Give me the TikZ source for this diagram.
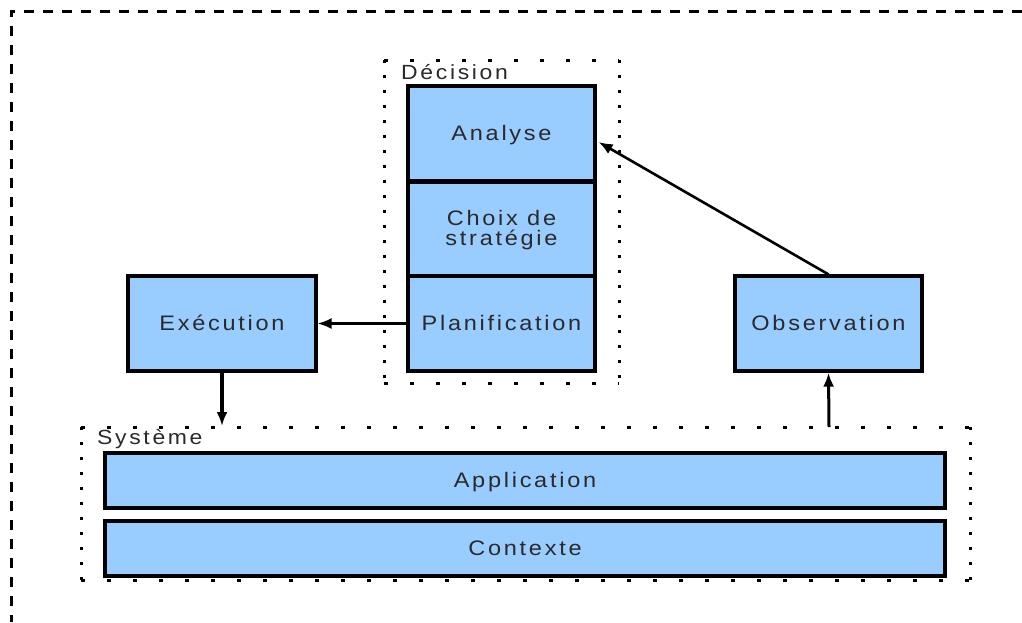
\documentclass[tikz,border=0pt]{standalone}
\usepackage{fontspec}
\setmainfont{Liberation Sans}[LetterSpace=13,FakeStretch=1.12]
\usetikzlibrary{arrows.meta}
\definecolor{boxblue}{HTML}{99CCFF}
\definecolor{txt}{HTML}{2A2A2A}
\begin{document}
\begin{tikzpicture}[x=1pt,y=-1pt,
  blk/.style={draw=black, line width=3.2pt, fill=boxblue, text=txt, align=center,
    inner sep=0pt, font=\fontsize{21}{21}\selectfont},
  one/.style={text height=18pt, text depth=4pt},
  lbl/.style={text=txt, inner sep=0pt, anchor=west, font=\fontsize{20.5}{21}\selectfont},
  hdot/.style={line width=3pt, dash pattern=on 4pt off 22pt},
  vdot/.style={line width=3pt, dash pattern=on 3pt off 12pt},
  outer/.style={line width=3pt, dash pattern=on 10pt off 9pt},
  arr/.style={-{Latex[length=14pt,width=11pt]}}
]
\useasboundingbox (0,0) rectangle (1022,622);
% outer dashed frame
\coordinate (otl) at (11,11);
\coordinate (otr) at (1022,11);
\coordinate (obl) at (11,622);
\draw[outer] (otr) -- (otl) -- (obl);
% Decision frame
\coordinate (d1) at (384,60);
\coordinate (d2) at (619,60);
\coordinate (d3) at (619,383);
\coordinate (d4) at (384,383);
\draw[hdot] (d1) -- (d2);
\draw[hdot] (d4) -- (d3);
\draw[vdot] (d1) -- (d4);
\draw[vdot] (d2) -- (d3);
\node[lbl] (declbl) at (401,72) {Décision};
% Systeme frame
\coordinate (s1) at (81,427);
\coordinate (s2) at (970,427);
\coordinate (s3) at (970,580);
\coordinate (s4) at (81,580);
\draw[hdot] (s1) -- (s2);
\draw[hdot] (s4) -- (s3);
\draw[vdot] (s1) -- (s4);
\draw[vdot] (s2) -- (s3);
\node[lbl] (syslbl) at (97,439) {Système};
% boxes
\node[blk, one, minimum width=187pt, minimum height=95pt] (ana) at (501.5,133.5) {Analyse};
\node[blk, minimum width=187pt, minimum height=95pt] (cho) at (501.5,230) {Choix de\\[-1pt]stratégie};
\node[blk, one, minimum width=187pt, minimum height=95pt] (pla) at (501.5,323.5) {Planification};
\node[blk, one, minimum width=188pt, minimum height=95pt] (exe) at (222,323.5) {Exécution};
\node[blk, one, minimum width=187pt, minimum height=95pt] (obs) at (828.5,323.5) {Observation};
\node[blk, one, minimum width=840pt, minimum height=55pt] (app) at (525,480.5) {Application};
\node[blk, one, minimum width=840pt, minimum height=55pt] (ctx) at (525,548.5) {Contexte};
% arrows
\coordinate (systop) at (222,426);
\coordinate (sysobs) at (829,427);
\draw[arr, line width=2.2pt] (pla.west) -- (exe.east);
\draw[arr, line width=4pt] (exe.south) -- (systop);
\draw[arr, line width=3pt] (sysobs) -- (obs.south);
\draw[arr, line width=2.6pt] (obs.north) -- ([xshift=2pt,yshift=-8.5pt]ana.east);
\end{tikzpicture}
\end{document}
